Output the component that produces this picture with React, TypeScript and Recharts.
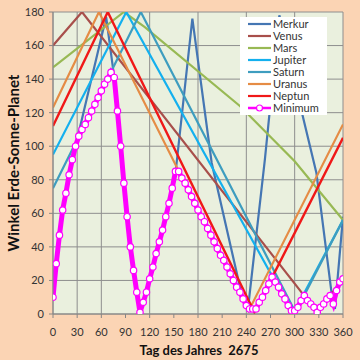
import React from 'react';
import { LineChart, Line, XAxis, YAxis, CartesianGrid, Legend } from 'recharts';

const X_TICKS = [0, 30, 60, 90, 120, 150, 180, 210, 240, 270, 300, 330, 360];
const Y_TICKS = [0, 20, 40, 60, 80, 100, 120, 140, 160, 180];

const MERKUR: [number, number][] = [[0,10],[4,30],[8,47],[12,62],[17,75],[21,86],[66,177],[76,141],[80,121],[84,100],[88,78],[92,58],[96,40],[100,26],[104,13],[108,1],[113,8],[117,15],[121,23],[125,30],[129,38],[133,45],[137,52],[141,60],[145,68],[149,77],[153,88],[173,176],[197,90],[234,12],[242,3],[263,92],[281,178],[305,128],[327,84],[347,8],[350,3],[360,58]];
const VENUS: [number, number][] = [[0,160],[36,180],[328,1],[360,21]];
const MARS: [number, number][] = [[0,147],[88,180],[114,171],[232,124],[300,91],[360,56]];
const JUPITER: [number, number][] = [[0,95],[91,180],[298,0],[360,56]];
const SATURN: [number, number][] = [[0,75],[109,180],[301,1],[360,56]];
const URANUS: [number, number][] = [[0,123],[57,180],[243,2],[360,113]];
const NEPTUN: [number, number][] = [[0,112],[68,180],[250,1],[360,105]];
const MINIMUM: [number, number][] = [[0,10],[4,30],[8,47],[12,62],[16,72],[20,83],[24,92],[28,100],[32,106],[36,110],[40,113],[44,117],[48,121],[52,125],[56,129],[60,133],[64,137],[68,140],[72,144],[76,141],[80,121],[84,100],[88,78],[92,58],[96,40],[100,26],[104,13],[108,1],[112,7],[116,13],[120,21],[124,28],[128,36],[132,43],[136,50],[140,58],[144,66],[148,75],[152,85],[156,85],[160,81],[164,78],[168,74],[172,70],[176,66],[180,62],[184,58],[188,55],[192,51],[196,47],[200,43],[204,39],[208,35],[212,32],[216,28],[220,24],[224,20],[228,16],[232,13],[236,9],[240,5],[244,3],[248,3],[252,3],[256,7],[260,10],[264,14],[268,18],[272,22],[276,19],[280,16],[284,12],[288,9],[292,5],[296,2],[300,2],[304,4],[308,8],[312,11],[316,8],[320,6],[324,4],[328,1],[332,4],[336,6],[340,9],[344,11],[348,6],[352,14],[356,19],[360,21]];

const SERIES = [
  { name: 'Merkur', data: MERKUR, color: '#4576B3', width: 2.2 },
  { name: 'Venus', data: VENUS, color: '#A84F4B', width: 2.2 },
  { name: 'Mars', data: MARS, color: '#98B954', width: 2.2 },
  { name: 'Jupiter', data: JUPITER, color: '#14B0EE', width: 2.2 },
  { name: 'Saturn', data: SATURN, color: '#3E9DBF', width: 2.2 },
  { name: 'Uranus', data: URANUS, color: '#E58C45', width: 2.2 },
  { name: 'Neptun', data: NEPTUN, color: '#F01818', width: 2.4 },
];
const MIN_NAME = 'Minimum';
const MIN_COLOR = '#FF00FF';

const toPts = (arr: [number, number][]) => arr.map(([x, y]) => ({ x, y }));

const LegendBox = () => {
  const rows = [...SERIES.map((s) => ({ name: s.name, color: s.color, marker: false })), { name: MIN_NAME, color: MIN_COLOR, marker: true }];
  return (
    <div style={{ background: '#fff', width: 87, height: 98, paddingTop: 1, boxSizing: 'border-box', fontFamily: 'Lato, sans-serif' }}>
      {rows.map((r) => (
        <div key={r.name} style={{ display: 'flex', alignItems: 'center', height: 12, overflow: 'hidden' }}>
          <svg width={33} height={12} style={{ flex: 'none' }}>
            <line x1={8} y1={6} x2={31} y2={6} stroke={r.color} strokeWidth={r.marker ? 2.5 : 2.2} />
            {r.marker && <circle cx={19.5} cy={6} r={3} fill="#fff" stroke={r.color} strokeWidth={1.2} />}
          </svg>
          <span style={{ fontSize: 11, color: '#333', lineHeight: '12px' }}>{r.name}</span>
        </div>
      ))}
    </div>
  );
};

export default function App() {
  return (
    <div style={{ position: 'fixed', left: 0, top: 0, width: 360, height: 360, background: '#FBD4B4', fontFamily: 'Lato, sans-serif' }}>
      <LineChart width={360} height={360} margin={{ top: 12, right: 17, left: 0, bottom: 0 }}>
        <CartesianGrid stroke="#8E8E8E" strokeWidth={1} fill="#EAF0DE" fillOpacity={1} />
        <XAxis
          type="number"
          dataKey="x"
          domain={[0, 360]}
          ticks={X_TICKS}
          allowDataOverflow
          height={46}
          tickSize={4}
          tickMargin={10}
          stroke="#868686"
          tick={{ fill: '#333', fontSize: 11 }}
          label={{
            value: 'Tag des Jahres  2675',
            content: () => (
              <text x={199} y={355} textAnchor="middle" fontWeight="bold" fontSize={13} fill="#111" style={{ whiteSpace: 'pre' }}>Tag des Jahres  2675</text>
            ),
          }}
        />
        <YAxis
          type="number"
          domain={[0, 180]}
          ticks={Y_TICKS}
          allowDataOverflow
          width={53}
          tickSize={4}
          tickMargin={5}
          stroke="#868686"
          tick={{ fill: '#333', fontSize: 11 }}
          label={{
            value: 'Winkel Erde-Sonne-Planet',
            content: () => (
              <text x={13} y={163} transform="rotate(-90, 13, 163)" textAnchor="middle" dominantBaseline="central" fontWeight="bold" fontSize={15} fill="#111">Winkel Erde-Sonne-Planet</text>
            ),
          }}
        />
        <Legend
          layout="vertical"
          align="center"
          verticalAlign="middle"
          content={() => <LegendBox />}
          wrapperStyle={{ position: 'absolute', left: 240, top: 17, width: 87, height: 98 }}
        />
        {SERIES.map((s) => (
          <Line
            key={s.name}
            name={s.name}
            data={toPts(s.data)}
            dataKey="y"
            type="linear"
            stroke={s.color}
            strokeWidth={s.width}
            dot={false}
            activeDot={false}
            isAnimationActive={false}
          />
        ))}
        <Line
          name={MIN_NAME}
          data={toPts(MINIMUM)}
          dataKey="y"
          type="linear"
          stroke={MIN_COLOR}
          strokeWidth={5}
          dot={{ r: 3.2, fill: '#fff', stroke: MIN_COLOR, strokeWidth: 1.2 }}
          activeDot={false}
          isAnimationActive={false}
        />
      </LineChart>
    </div>
  );
}
